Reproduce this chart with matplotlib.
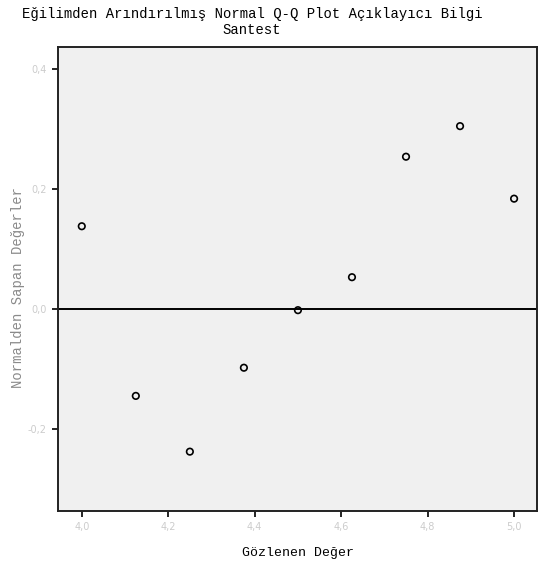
import numpy as np
import matplotlib.pyplot as plt

# gözlenen değerler ve normalden sapmalar
gozlenen = [4.0, 4.125, 4.25, 4.375, 4.5, 4.625, 4.75, 4.875, 5.0]
sapma = [0.138, -0.145, -0.238, -0.098, -0.002, 0.053, 0.254, 0.305, 0.184]

x_ticks = [4.0, 4.2, 4.4, 4.6, 4.8, 5.0]
y_ticks = [-0.2, 0.0, 0.2, 0.4]

def virgul(v):
    return f"{v:.1f}".replace(".", ",")

fig = plt.figure(figsize=(5.39, 5.71), dpi=100)
ax = fig.add_axes([58 / 539, 1 - 511 / 571, (537 - 58) / 539, (511 - 47) / 571])
ax.set_facecolor("#f0f0f0")

ax.axhline(0, color="black", lw=1.4, zorder=1)
ax.scatter(gozlenen, sapma, s=22, facecolors="none", edgecolors="black",
           linewidths=1.2, zorder=2)

ax.set_xlim(3.945, 5.053)
ax.set_ylim(-0.337, 0.437)
ax.set_xticks(x_ticks)
ax.set_xticklabels([virgul(v) for v in x_ticks])
ax.set_yticks(y_ticks)
ax.set_yticklabels([virgul(v) for v in y_ticks])
ax.tick_params(direction="out", length=4, width=1.2, color="black",
               labelsize=7, labelcolor="#cccccc", pad=4)
for s in ax.spines.values():
    s.set_linewidth(1.4)
    s.set_color("#222222")

ax.set_xlabel("Gözlenen Değer", family="Liberation Mono", fontsize=9.5,
              color="black", labelpad=11)

fig.text(18 / 539, 1 - 287 / 571, "Normalden Sapan Değerler",
         rotation=90, ha="center", va="center", family="Liberation Mono",
         fontsize=10, color="#8a8a8a")

fig.text(252 / 539, 1 - 14 / 571,
         "Eğilimden Arındırılmış Normal Q-Q Plot Açıklayıcı Bilgi",
         ha="center", va="center", family="Liberation Mono", fontsize=10)
fig.text(252 / 539, 1 - 30 / 571, "Santest",
         ha="center", va="center", family="Liberation Mono", fontsize=10)

fig.savefig("out.png", dpi=100, facecolor="white")
